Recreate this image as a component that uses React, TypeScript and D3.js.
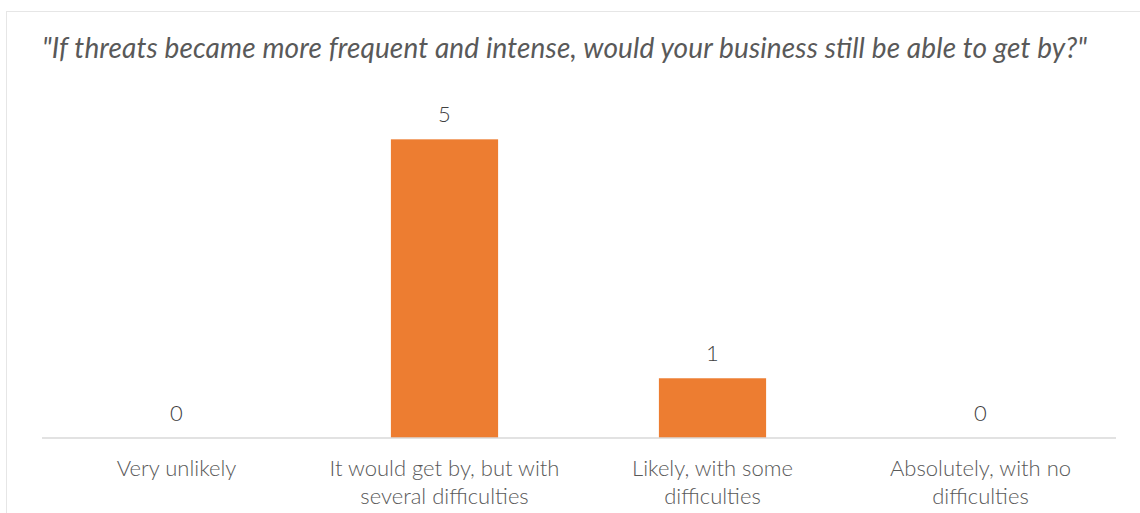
import React from "react";
import * as d3 from "d3";

const categories = [
  "Very unlikely",
  "It would get by, but with several difficulties",
  "Likely, with some difficulties",
  "Absolutely, with no difficulties",
];
const categoryLines = [
  ["Very unlikely"],
  ["It would get by, but with", "several difficulties"],
  ["Likely, with some", "difficulties"],
  ["Absolutely, with no", "difficulties"],
];
const values = [0, 5, 1, 0];
const title = "\"If threats became more frequent and intense, would your business still be able to get by?\"";

const W = 1140;
const H = 513;
const FONT = "Lato, 'Open Sans', sans-serif";

export default function App() {
  const x = d3
    .scaleBand<string>()
    .domain(categories)
    .range([42.5, 1114.5])
    .paddingInner(0.6)
    .paddingOuter(0.3);
  const y = d3.scaleLinear().domain([0, 6]).range([438, 79.6]);

  return (
    <svg
      width={W}
      height={H}
      style={{ position: "absolute", left: 0, top: 0, background: "#fff" }}
    >
      <rect x={6.5} y={11.5} width={1140} height={520} fill="#fff" stroke="#E6E6E6" strokeWidth={1} />
      <text
        x={42}
        y={58}
        fontFamily={FONT}
        fontStyle="italic"
        fontSize={28}
        fill="#595959"
        textLength={1045}
        lengthAdjust="spacing"
      >
        {title}
      </text>
      {categories.map((c, i) => (
        <g key={c}>
          {values[i] > 0 && (
            <rect
              x={x(c)}
              y={y(values[i])}
              width={x.bandwidth()}
              height={y(0) - y(values[i])}
              fill="#ED7D31"
            />
          )}
          <text
            x={(x(c) as number) + x.bandwidth() / 2}
            y={y(values[i]) - 17}
            textAnchor="middle"
            fontFamily={FONT}
            fontSize={22}
            fontWeight={300}
            fill="#404040"
          >
            {values[i]}
          </text>
          {categoryLines[i].map((ln, j) => (
            <text
              key={j}
              x={(x(c) as number) + x.bandwidth() / 2}
              y={476 + j * 28}
              textAnchor="middle"
              fontFamily={FONT}
              fontSize={22}
              fontWeight={300}
              fill="#595959"
            >
              {ln}
            </text>
          ))}
        </g>
      ))}
      <line x1={42} x2={1116} y1={438} y2={438} stroke="#D9D9D9" strokeWidth={1.5} />
    </svg>
  );
}
